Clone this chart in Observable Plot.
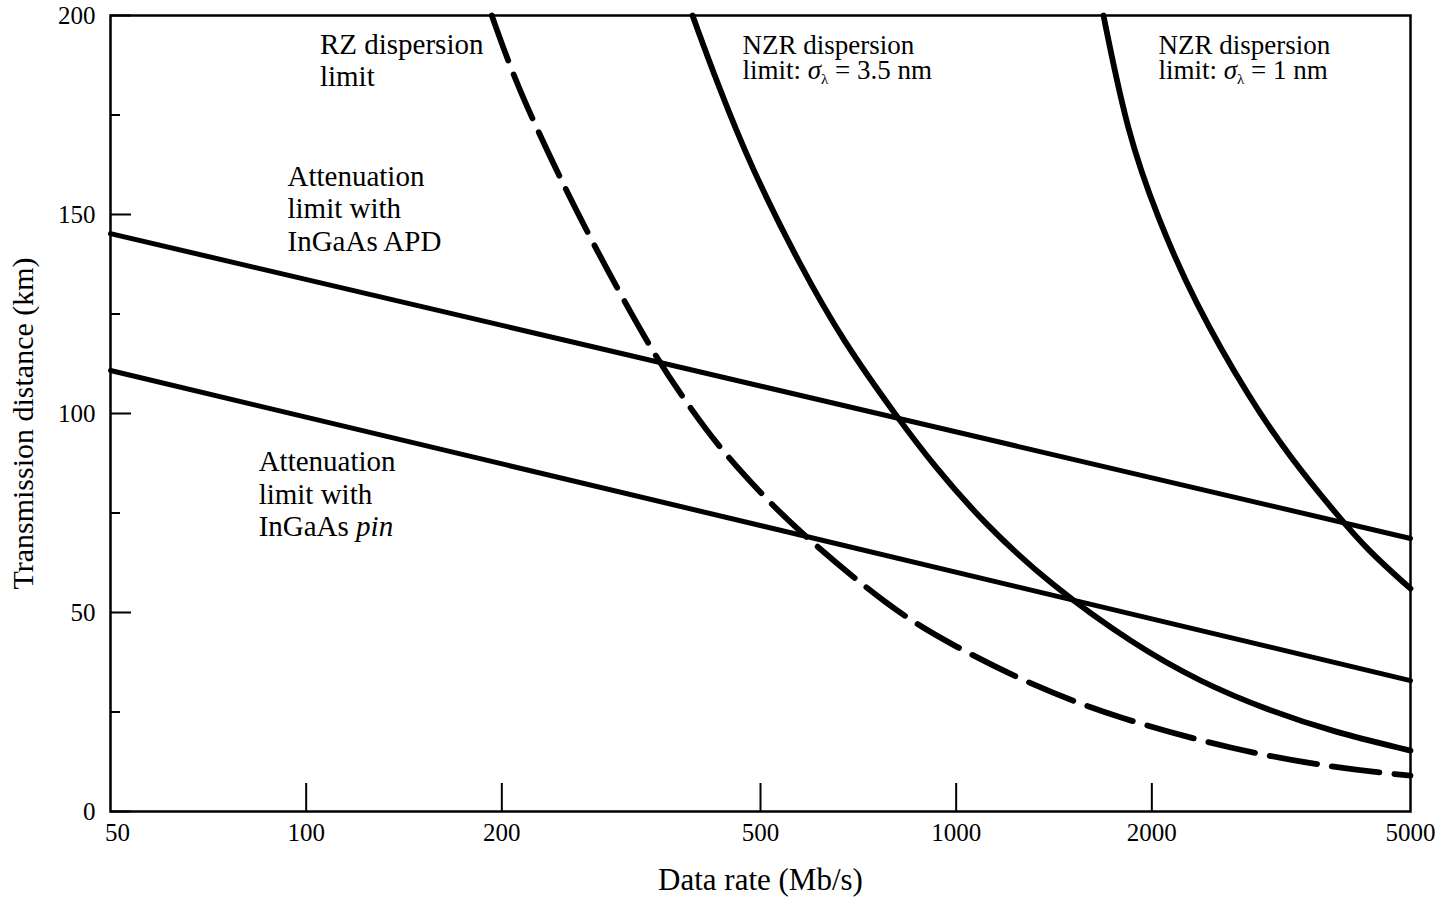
<!DOCTYPE html>
<html>
<head>
<meta charset="utf-8">
<script src="https://cdn.jsdelivr.net/npm/d3@7"></script>
<script src="https://cdn.jsdelivr.net/npm/@observablehq/plot@0.6"></script>
<style>
  html, body { margin: 0; padding: 0; background: #fff; }
</style>
</head>
<body>
<div id="chart"></div>
<script>
// ---------- data ----------
const xTickValues = [100, 200, 500, 1000, 2000, 5000];
const xFirstTick = [50];
const xInnerTicks = [100, 200, 500, 1000, 2000];
const yMajorTicks = [0, 50, 100, 150, 200];
const yMinorTicks = [25, 75, 125, 175];

const apdRate = [50, 5000];
const apdDist = [145.2, 68.6];

const pinRate = [50, 5000];
const pinDist = [110.8, 32.9];

const rzRate = [193, 206, 224, 267, 339, 380, 429, 500, 576, 792, 980, 1315, 1770, 2670, 3805, 5000];
const rzDist = [200, 187, 173, 147, 116, 104, 92, 80, 70, 51, 42, 31.5, 23.5, 15.5, 11, 9];

const nzr35Rate = [393, 429, 483, 576, 671, 812, 923, 1102, 1396, 1874, 2377, 3013, 3805, 5000];
const nzr35Dist = [200, 183, 162, 137, 118, 99, 87, 72.5, 57, 42, 32.5, 25.5, 20, 15.3];

const nzr1Rate = [1685, 1834, 2041, 2318, 2836, 3269, 3805, 4295, 5000];
const nzr1Dist = [200, 170.4, 149.2, 128.4, 103.3, 88.9, 75.6, 65.6, 56];

const labelText = [
  "RZ dispersion\nlimit",
  "Attenuation\nlimit with\nInGaAs APD",
  "Attenuation\nlimit with\nInGaAs pin"
];
const labelRate = [105, 93.6, 84.5];
const labelDist = [196.2, 163, 91.3];

const nzrLabelText = ["NZR dispersion\nlimit: σλ = 3.5 nm", "NZR dispersion\nlimit: σλ = 1 nm"];
const nzrLabelRate = [469, 2047];
const nzrLabelDist = [194.8, 194.8];

const xTitle = "Data rate (Mb/s)";
const yTitle = "Transmission distance (km)";

// ---------- build tables ----------
const toRows = (rates, dists) => rates.map((r, i) => ({rate: r, dist: dists[i]}));
const apd = toRows(apdRate, apdDist);
const pin = toRows(pinRate, pinDist);
const rz = toRows(rzRate, rzDist);
const nzr35 = toRows(nzr35Rate, nzr35Dist);
const nzr1 = toRows(nzr1Rate, nzr1Dist);
const labels = labelText.map((t, i) => ({text: t, rate: labelRate[i], dist: labelDist[i]}));
const nzrLabels = nzrLabelText.map((t, i) => ({text: t, rate: nzrLabelRate[i], dist: nzrLabelDist[i]}));

const serif = '"Liberation Serif", "Times New Roman", Times, serif';

const chart = Plot.plot({
  width: 1449,
  height: 900,
  marginTop: 15,
  marginRight: 39,
  marginBottom: 89,
  marginLeft: 110,
  style: {fontFamily: serif, fontSize: "25px", color: "#000", background: "#fff", overflow: "visible"},
  x: {type: "log", domain: [50, 5000]},
  y: {domain: [0, 200]},
  marks: [
    Plot.axisX({ticks: xTickValues, tickSize: 0, tickPadding: 12, tickFormat: d => String(d), label: null, fontSize: 25}),
    Plot.axisX({ticks: xFirstTick, tickSize: 0, tickPadding: 12, dx: 7, tickFormat: d => String(d), label: null, fontSize: 25}),
    Plot.axisX({ticks: xInnerTicks, tickSize: -28, text: null, label: null, strokeWidth: 2}),
    Plot.axisY({ticks: yMajorTicks, tickSize: 0, tickPadding: 15, tickFormat: d => String(d), label: null, fontSize: 25}),
    Plot.axisY({ticks: yMajorTicks, tickSize: -21, text: null, label: null, strokeWidth: 2}),
    Plot.axisY({ticks: yMinorTicks, tickSize: -10, text: null, label: null, strokeWidth: 2}),
    Plot.line(apd, {x: "rate", y: "dist", stroke: "#000", strokeWidth: 5}),
    Plot.line(pin, {x: "rate", y: "dist", stroke: "#000", strokeWidth: 5}),
    Plot.line(rz, {x: "rate", y: "dist", stroke: "#000", strokeWidth: 5.8, strokeDasharray: "48,15", curve: "basis"}),
    Plot.line(nzr35, {x: "rate", y: "dist", stroke: "#000", strokeWidth: 5.8, curve: "basis"}),
    Plot.line(nzr1, {x: "rate", y: "dist", stroke: "#000", strokeWidth: 5.8, curve: "basis"}),
    Plot.frame({stroke: "#000", strokeWidth: 2.5}),
    Plot.text(labels, {x: "rate", y: "dist", text: "text", textAnchor: "start", lineAnchor: "top", fontSize: 29, lineHeight: 1.12, fill: "#000"}),
    Plot.text(nzrLabels, {x: "rate", y: "dist", text: "text", textAnchor: "start", lineAnchor: "top", fontSize: 27, lineHeight: 0.93, fill: "#000"}),
    Plot.text([xTitle], {frameAnchor: "bottom", dy: 78, fontSize: 31, fill: "#000"}),
    Plot.text([yTitle], {frameAnchor: "left", textAnchor: "middle", rotate: -90, dx: -87, dy: 10, fontSize: 30, fill: "#000"})
  ]
});

// rich text: italic sigma with subscript lambda, italic "pin"
const SVGNS = "http://www.w3.org/2000/svg";
function rich(el, parts) {
  el.textContent = "";
  for (const p of parts) {
    const ts = document.createElementNS(SVGNS, "tspan");
    ts.textContent = p.text;
    for (const k in (p.attrs || {})) ts.setAttribute(k, p.attrs[k]);
    el.appendChild(ts);
  }
}
d3.select(chart).selectAll("tspan").each(function () {
  const t = this.textContent;
  if (t.startsWith("limit: σλ")) {
    const rest = t.slice("limit: σλ".length);
    rich(this, [
      {text: "limit: "},
      {text: "σ", attrs: {"font-style": "italic"}},
      {text: "λ", attrs: {"font-size": "15px", "dy": "5"}},
      {text: rest, attrs: {"dy": "-5"}}
    ]);
  } else if (t === "InGaAs pin") {
    rich(this, [
      {text: "InGaAs "},
      {text: "pin", attrs: {"font-style": "italic"}}
    ]);
  }
});

document.getElementById("chart").appendChild(chart);
</script>
</body>
</html>
